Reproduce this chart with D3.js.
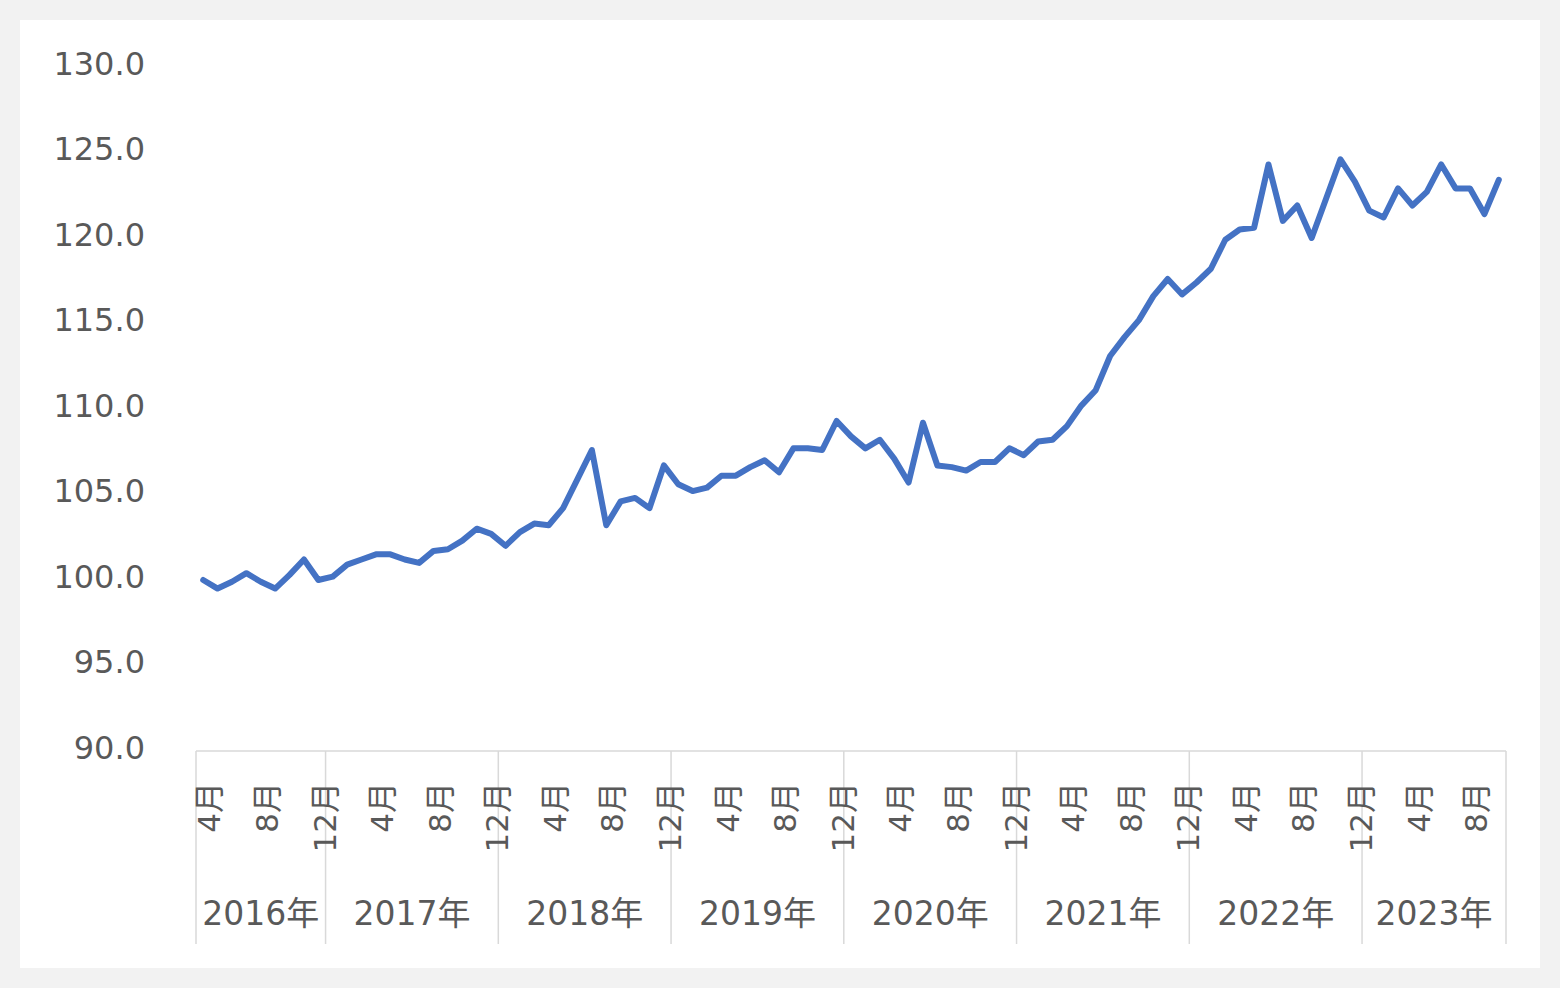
<!DOCTYPE html>
<html lang="ja">

<head>
    <meta charset="UTF-8">
    <title>月次推移</title>
    <style>
        body { margin: 0; background: #f2f2f2; }
        svg { display: block; }
    </style>
</head>

<body>
    <script src="https://d3js.org/d3.v7.min.js"></script>
    <script>
    var width = 1560;
    var height = 988;
    // 描画エリア
    var plot = { left: 196, right: 1506, top: 67, bottom: 751 };

    // 年と月の範囲
    var years = [2016, 2017, 2018, 2019, 2020, 2021, 2022, 2023];
    var firstMonth = [4, 1, 1, 1, 1, 1, 1, 1];
    var lastMonth = [12, 12, 12, 12, 12, 12, 12, 10];
    var monthTicks = [4, 8, 12];
    var yTicks = [90, 95, 100, 105, 110, 115, 120, 125, 130];

    // 指数（2016年4月〜2023年10月）
    var values = [
        100.0, 99.5, 99.9, 100.4, 99.9, 99.5, 100.3, 101.2, 100.0,
        100.2, 100.9, 101.2, 101.5, 101.5, 101.2, 101.0, 101.7, 101.8, 102.3, 103.0, 102.7,
        102.0, 102.8, 103.3, 103.2, 104.2, 105.9, 107.6, 103.2, 104.6, 104.8, 104.2, 106.7,
        105.6, 105.2, 105.4, 106.1, 106.1, 106.6, 107.0, 106.3, 107.7, 107.7, 107.6, 109.3,
        108.4, 107.7, 108.2, 107.1, 105.7, 109.2, 106.7, 106.6, 106.4, 106.9, 106.9, 107.7,
        107.3, 108.1, 108.2, 109.0, 110.2, 111.1, 113.1, 114.2, 115.2, 116.6, 117.6, 116.7,
        117.4, 118.2, 119.9, 120.5, 120.6, 124.3, 121.0, 121.9, 120.0, 122.3, 124.6, 123.3,
        121.6, 121.2, 122.9, 121.9, 122.7, 124.3, 122.9, 122.9, 121.4, 123.4
    ];

    var categories = [];
    years.forEach(function(y, k) {
        for (var m = firstMonth[k]; m <= lastMonth[k]; m++) {
            categories.push({ year: y, month: m, key: y + '-' + m });
        }
    });
    var dataset = categories.map(function(c, i) {
        return { key: c.key, year: c.year, month: c.month, value: values[i] };
    });

    var x = d3.scaleBand()
        .domain(categories.map(function(c) { return c.key; }))
        .range([plot.left, plot.right])
        .padding(0);
    var y = d3.scaleLinear()
        .domain([90, 130])
        .range([plot.bottom, plot.top]);

    var svg = d3.select('body').append('svg').attr('width', width).attr('height', height);

    svg.append('rect')
        .attr('x', 20).attr('y', 20)
        .attr('width', 1520).attr('height', 948)
        .attr('fill', '#ffffff');

    var fontFamily = '"DejaVu Sans", "Noto Sans CJK JP", sans-serif';
    var textColor = '#595959';
    var lineColor = '#d9d9d9';

    // y軸ラベル
    svg.append('g')
        .selectAll('text')
        .data(yTicks)
        .enter()
        .append('text')
        .attr('x', 145)
        .attr('y', function(d) { return y(d) - 4; })
        .attr('dy', '0.36em')
        .attr('text-anchor', 'end')
        .attr('font-family', fontFamily)
        .attr('font-size', 32)
        .attr('fill', textColor)
        .text(function(d) { return d3.format('.1f')(d); });

    // x軸
    svg.append('line')
        .attr('x1', plot.left).attr('x2', plot.right)
        .attr('y1', plot.bottom).attr('y2', plot.bottom)
        .attr('stroke', lineColor).attr('stroke-width', 1.5);

    // 年の区切り線
    var dividers = years.map(function(yr, k) { return x(yr + '-' + firstMonth[k]); });
    dividers.push(plot.right);
    svg.append('g')
        .selectAll('line')
        .data(dividers)
        .enter()
        .append('line')
        .attr('x1', function(d) { return d; })
        .attr('x2', function(d) { return d; })
        .attr('y1', plot.bottom)
        .attr('y2', 944)
        .attr('stroke', lineColor)
        .attr('stroke-width', 1.5);

    // 月ラベル
    svg.append('g')
        .selectAll('text')
        .data(categories.filter(function(c) { return monthTicks.indexOf(c.month) >= 0; }))
        .enter()
        .append('text')
        .attr('transform', function(d) {
            return 'translate(' + (x(d.key) + x.bandwidth() / 2 + 6) + ',782) rotate(-90)';
        })
        .attr('dy', '0.36em')
        .attr('text-anchor', 'end')
        .attr('font-family', fontFamily)
        .attr('font-size', 31)
        .attr('fill', textColor)
        .text(function(d) { return d.month + '月'; });

    // 年ラベル
    svg.append('g')
        .selectAll('text')
        .data(years)
        .enter()
        .append('text')
        .attr('x', function(d, k) {
            var a = x(d + '-' + firstMonth[k]);
            var b = x(d + '-' + lastMonth[k]) + x.bandwidth();
            return (a + b) / 2;
        })
        .attr('y', 925)
        .attr('text-anchor', 'middle')
        .attr('font-family', fontFamily)
        .attr('font-size', 33)
        .attr('fill', textColor)
        .text(function(d) { return d + '年'; });

    // 折れ線
    var line = d3.line()
        .x(function(d) { return x(d.key) + x.bandwidth() / 2; })
        .y(function(d) { return y(d.value); });

    svg.append('path')
        .datum(dataset)
        .attr('d', line)
        .attr('fill', 'none')
        .attr('stroke', '#4472c4')
        .attr('stroke-width', 6)
        .attr('stroke-linejoin', 'round')
        .attr('stroke-linecap', 'round');
    </script>
</body>

</html>
